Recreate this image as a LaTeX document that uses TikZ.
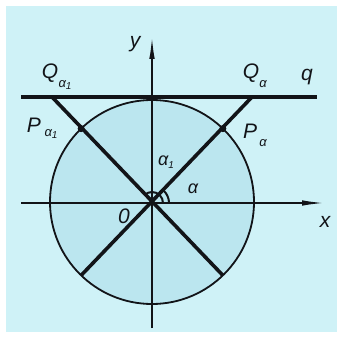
\documentclass[tikz,border=0pt]{standalone}
\usepackage{fontspec}
\setmainfont{Liberation Sans}
\usetikzlibrary{arrows.meta,calc}
\definecolor{bgc}{HTML}{CFF2F7}
\definecolor{inc}{HTML}{BBE6EF}
\definecolor{ink}{HTML}{121418}
\newcommand\subone{\raisebox{-2.5pt}{\fontsize{10}{10}\selectfont 1}}
\tikzset{
  lbl/.style={font=\fontsize{21}{24}\selectfont\itshape, text=ink, inner sep=0pt},
  sub/.style={font=\fontsize{13}{14}\selectfont\itshape, text=ink, inner sep=0pt},
  glbl/.style={font=\fontsize{18}{20}\selectfont\itshape, text=ink, inner sep=0pt},
  axis/.style={draw=ink, line width=2pt, -{Latex[length=24pt,width=5.5pt]}},
  ray/.style={draw=ink, line width=3.6pt},
  dotp/.style={circle, fill=ink, inner sep=0pt, minimum size=7pt}
}
\begin{document}
\begin{tikzpicture}[x=1pt,y=1pt]
\fill[white] (0,0) rectangle (339,337);
\fill[bgc] (6,5) rectangle (337,331);
\useasboundingbox (0,0) rectangle (339,337);
\coordinate (O) at (152,134);
\coordinate (C) at (152,135);
\fill[inc] (C) circle (102);
\draw[ink, line width=1.8pt] (C) circle (102);
% axes
\coordinate (xs) at (21,134);
\coordinate (xe) at (326,134);
\coordinate (ys) at (152,9);
\coordinate (ye) at (152,302);
\draw[axis] (xs) -- (xe);
\draw[axis] (ys) -- (ye);
% tangent line q
\coordinate (qs) at (21,240);
\coordinate (qe) at (317,240);
\draw[ink, line width=4.2pt] (qs) -- (qe);
% rays
\coordinate (Pa) at ($(C)+(46:102)$);
\coordinate (Pb) at ($(C)+(134:102)$);
\coordinate (Qa) at (252,240);
\coordinate (Qb) at (52,240);
\coordinate (Ea) at ($(C)+(226:102)$);
\coordinate (Eb) at ($(C)+(314:102)$);
\draw[ray] (Qa) -- (Ea);
\draw[ray] (Qb) -- (Eb);
\node[dotp] (dPa) at (Pa) {};
\node[dotp] (dPb) at (Pb) {};
% angle arcs
\draw[ink, line width=2pt] ($(O)+(0:17)$) arc (0:46:17);
\draw[ink, line width=2pt] ($(O)+(0:11)$) arc (0:134:11);
% labels
\node[lbl] (ly) at (135,293) {y};
\node[lbl] (lx) at (325,115) {x};
\node[lbl] (lq) at (307,260) {q};
\node[lbl] (lO) at (124,121) {0};
\node[lbl] (lQb) at (50,264) {Q};
\node[sub] (sQb) at (65,252) {α\subone};
\node[lbl] (lQa) at (251,264) {Q};
\node[sub] (sQa) at (263,253) {α};
\node[lbl] (lPb) at (34,212) {P};
\node[sub] (sPb) at (51,203) {α\subone};
\node[lbl] (lPa) at (250,206) {P};
\node[sub] (sPa) at (263,194) {α};
\node[glbl] (la1) at (166,175) {α\subone};
\node[glbl] (la) at (193,148) {α};
\end{tikzpicture}
\end{document}
